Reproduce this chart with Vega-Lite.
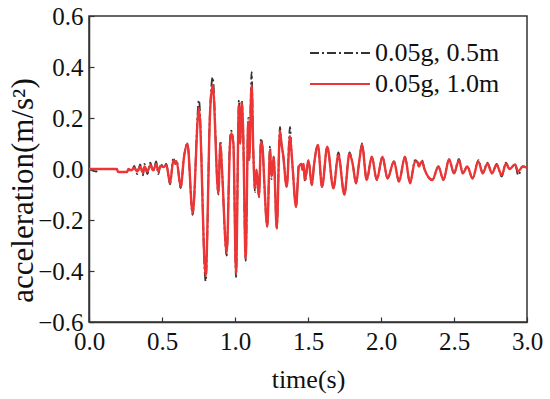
{
  "$schema": "https://vega.github.io/schema/vega-lite/v6.json",
  "width": 438,
  "height": 306,
  "autosize": {"type": "none"},
  "padding": {"left": 89, "top": 16, "right": 23, "bottom": 77},
  "background": "white",
  "config": {
    "font": "Times New Roman",
    "view": {"stroke": "#333333", "strokeWidth": 1.5}
  },
  "data": {
    "values": [
      {"s": "0.05g,  1.0m", "t": 0.00, "a": 0.0},
      {"s": "0.05g,  1.0m", "t": 0.19, "a": 0.0},
      {"s": "0.05g,  1.0m", "t": 0.20, "a": -0.012},
      {"s": "0.05g,  1.0m", "t": 0.26, "a": -0.012},
      {"s": "0.05g,  1.0m", "t": 0.27, "a": 0.0},
      {"s": "0.05g,  1.0m", "t": 0.29, "a": -0.005},
      {"s": "0.05g,  1.0m", "t": 0.31, "a": 0.005},
      {"s": "0.05g,  1.0m", "t": 0.33, "a": -0.01},
      {"s": "0.05g,  1.0m", "t": 0.35, "a": 0.01},
      {"s": "0.05g,  1.0m", "t": 0.37, "a": -0.015},
      {"s": "0.05g,  1.0m", "t": 0.38, "a": 0.01},
      {"s": "0.05g,  1.0m", "t": 0.40, "a": -0.01},
      {"s": "0.05g,  1.0m", "t": 0.42, "a": 0.015},
      {"s": "0.05g,  1.0m", "t": 0.44, "a": -0.005},
      {"s": "0.05g,  1.0m", "t": 0.46, "a": 0.02},
      {"s": "0.05g,  1.0m", "t": 0.475, "a": -0.01},
      {"s": "0.05g,  1.0m", "t": 0.49, "a": 0.012},
      {"s": "0.05g,  1.0m", "t": 0.51, "a": 0.008},
      {"s": "0.05g,  1.0m", "t": 0.53, "a": 0.015},
      {"s": "0.05g,  1.0m", "t": 0.555, "a": -0.055},
      {"s": "0.05g,  1.0m", "t": 0.578, "a": 0.035},
      {"s": "0.05g,  1.0m", "t": 0.59, "a": 0.02},
      {"s": "0.05g,  1.0m", "t": 0.60, "a": 0.03},
      {"s": "0.05g,  1.0m", "t": 0.628, "a": -0.07},
      {"s": "0.05g,  1.0m", "t": 0.651, "a": 0.048},
      {"s": "0.05g,  1.0m", "t": 0.674, "a": 0.10},
      {"s": "0.05g,  1.0m", "t": 0.71, "a": -0.174},
      {"s": "0.05g,  1.0m", "t": 0.753, "a": 0.24},
      {"s": "0.05g,  1.0m", "t": 0.799, "a": -0.42},
      {"s": "0.05g,  1.0m", "t": 0.829, "a": 0.22},
      {"s": "0.05g,  1.0m", "t": 0.847, "a": 0.33},
      {"s": "0.05g,  1.0m", "t": 0.886, "a": -0.095},
      {"s": "0.05g,  1.0m", "t": 0.90, "a": 0.10},
      {"s": "0.05g,  1.0m", "t": 0.91, "a": 0.01},
      {"s": "0.05g,  1.0m", "t": 0.943, "a": -0.33},
      {"s": "0.05g,  1.0m", "t": 0.966, "a": 0.10},
      {"s": "0.05g,  1.0m", "t": 0.975, "a": 0.14},
      {"s": "0.05g,  1.0m", "t": 0.989, "a": 0.10},
      {"s": "0.05g,  1.0m", "t": 1.007, "a": -0.41},
      {"s": "0.05g,  1.0m", "t": 1.027, "a": 0.25},
      {"s": "0.05g,  1.0m", "t": 1.035, "a": 0.10},
      {"s": "0.05g,  1.0m", "t": 1.046, "a": 0.26},
      {"s": "0.05g,  1.0m", "t": 1.055, "a": 0.166},
      {"s": "0.05g,  1.0m", "t": 1.073, "a": -0.35},
      {"s": "0.05g,  1.0m", "t": 1.091, "a": 0.186},
      {"s": "0.05g,  1.0m", "t": 1.097, "a": 0.035},
      {"s": "0.05g,  1.0m", "t": 1.114, "a": 0.33},
      {"s": "0.05g,  1.0m", "t": 1.125, "a": 0.075},
      {"s": "0.05g,  1.0m", "t": 1.137, "a": -0.076},
      {"s": "0.05g,  1.0m", "t": 1.148, "a": -0.003},
      {"s": "0.05g,  1.0m", "t": 1.164, "a": -0.108},
      {"s": "0.05g,  1.0m", "t": 1.178, "a": 0.107},
      {"s": "0.05g,  1.0m", "t": 1.19, "a": 0.075},
      {"s": "0.05g,  1.0m", "t": 1.20, "a": -0.043},
      {"s": "0.05g,  1.0m", "t": 1.221, "a": -0.226},
      {"s": "0.05g,  1.0m", "t": 1.240, "a": 0.075},
      {"s": "0.05g,  1.0m", "t": 1.25, "a": -0.03},
      {"s": "0.05g,  1.0m", "t": 1.265, "a": 0.048},
      {"s": "0.05g,  1.0m", "t": 1.286, "a": -0.233},
      {"s": "0.05g,  1.0m", "t": 1.308, "a": 0.15},
      {"s": "0.05g,  1.0m", "t": 1.318, "a": 0.10},
      {"s": "0.05g,  1.0m", "t": 1.33, "a": 0.055},
      {"s": "0.05g,  1.0m", "t": 1.354, "a": -0.07},
      {"s": "0.05g,  1.0m", "t": 1.377, "a": 0.13},
      {"s": "0.05g,  1.0m", "t": 1.386, "a": 0.075},
      {"s": "0.05g,  1.0m", "t": 1.396, "a": -0.004},
      {"s": "0.05g,  1.0m", "t": 1.418, "a": -0.148},
      {"s": "0.05g,  1.0m", "t": 1.438, "a": 0.01},
      {"s": "0.05g,  1.0m", "t": 1.455, "a": 0.02},
      {"s": "0.05g,  1.0m", "t": 1.462, "a": -0.004},
      {"s": "0.05g,  1.0m", "t": 1.47, "a": 0.02},
      {"s": "0.05g,  1.0m", "t": 1.479, "a": -0.043},
      {"s": "0.05g,  1.0m", "t": 1.503, "a": 0.035},
      {"s": "0.05g,  1.0m", "t": 1.526, "a": -0.063},
      {"s": "0.05g,  1.0m", "t": 1.542, "a": 0.02},
      {"s": "0.05g,  1.0m", "t": 1.568, "a": 0.094},
      {"s": "0.05g,  1.0m", "t": 1.596, "a": -0.07},
      {"s": "0.05g,  1.0m", "t": 1.632, "a": 0.087},
      {"s": "0.05g,  1.0m", "t": 1.674, "a": -0.076},
      {"s": "0.05g,  1.0m", "t": 1.708, "a": 0.055},
      {"s": "0.05g,  1.0m", "t": 1.749, "a": -0.10},
      {"s": "0.05g,  1.0m", "t": 1.784, "a": 0.06},
      {"s": "0.05g,  1.0m", "t": 1.806, "a": 0.02},
      {"s": "0.05g,  1.0m", "t": 1.829, "a": -0.056},
      {"s": "0.05g,  1.0m", "t": 1.852, "a": 0.035},
      {"s": "0.05g,  1.0m", "t": 1.870, "a": 0.094},
      {"s": "0.05g,  1.0m", "t": 1.902, "a": -0.043},
      {"s": "0.05g,  1.0m", "t": 1.937, "a": 0.048},
      {"s": "0.05g,  1.0m", "t": 1.971, "a": -0.043},
      {"s": "0.05g,  1.0m", "t": 2.010, "a": 0.048},
      {"s": "0.05g,  1.0m", "t": 2.045, "a": -0.037},
      {"s": "0.05g,  1.0m", "t": 2.089, "a": 0.03},
      {"s": "0.05g,  1.0m", "t": 2.123, "a": -0.05},
      {"s": "0.05g,  1.0m", "t": 2.164, "a": 0.048},
      {"s": "0.05g,  1.0m", "t": 2.199, "a": -0.056},
      {"s": "0.05g,  1.0m", "t": 2.233, "a": 0.03},
      {"s": "0.05g,  1.0m", "t": 2.25, "a": 0.027},
      {"s": "0.05g,  1.0m", "t": 2.26, "a": 0.01},
      {"s": "0.05g,  1.0m", "t": 2.28, "a": 0.03},
      {"s": "0.05g,  1.0m", "t": 2.30, "a": -0.004},
      {"s": "0.05g,  1.0m", "t": 2.352, "a": -0.043},
      {"s": "0.05g,  1.0m", "t": 2.393, "a": 0.01},
      {"s": "0.05g,  1.0m", "t": 2.428, "a": -0.043},
      {"s": "0.05g,  1.0m", "t": 2.466, "a": 0.038},
      {"s": "0.05g,  1.0m", "t": 2.50, "a": -0.017},
      {"s": "0.05g,  1.0m", "t": 2.534, "a": 0.035},
      {"s": "0.05g,  1.0m", "t": 2.56, "a": -0.017},
      {"s": "0.05g,  1.0m", "t": 2.591, "a": 0.01},
      {"s": "0.05g,  1.0m", "t": 2.627, "a": -0.037},
      {"s": "0.05g,  1.0m", "t": 2.667, "a": 0.03},
      {"s": "0.05g,  1.0m", "t": 2.697, "a": -0.017},
      {"s": "0.05g,  1.0m", "t": 2.729, "a": 0.022},
      {"s": "0.05g,  1.0m", "t": 2.76, "a": -0.017},
      {"s": "0.05g,  1.0m", "t": 2.792, "a": 0.016},
      {"s": "0.05g,  1.0m", "t": 2.827, "a": -0.024},
      {"s": "0.05g,  1.0m", "t": 2.856, "a": 0.022},
      {"s": "0.05g,  1.0m", "t": 2.88, "a": 0.0},
      {"s": "0.05g,  1.0m", "t": 2.918, "a": 0.018},
      {"s": "0.05g,  1.0m", "t": 2.94, "a": -0.01},
      {"s": "0.05g,  1.0m", "t": 2.97, "a": 0.01},
      {"s": "0.05g,  1.0m", "t": 3.0, "a": 0.005},

      {"s": "0.05g, 0.5m", "t": 0.00, "a": 0.0},
      {"s": "0.05g, 0.5m", "t": 0.05, "a": -0.01},
      {"s": "0.05g, 0.5m", "t": 0.06, "a": 0.0},
      {"s": "0.05g, 0.5m", "t": 0.19, "a": 0.0},
      {"s": "0.05g, 0.5m", "t": 0.20, "a": -0.012},
      {"s": "0.05g, 0.5m", "t": 0.26, "a": -0.012},
      {"s": "0.05g, 0.5m", "t": 0.27, "a": 0.0},
      {"s": "0.05g, 0.5m", "t": 0.29, "a": -0.01},
      {"s": "0.05g, 0.5m", "t": 0.31, "a": 0.012},
      {"s": "0.05g, 0.5m", "t": 0.33, "a": -0.02},
      {"s": "0.05g, 0.5m", "t": 0.35, "a": 0.018},
      {"s": "0.05g, 0.5m", "t": 0.37, "a": -0.025},
      {"s": "0.05g, 0.5m", "t": 0.38, "a": 0.02},
      {"s": "0.05g, 0.5m", "t": 0.40, "a": -0.02},
      {"s": "0.05g, 0.5m", "t": 0.42, "a": 0.025},
      {"s": "0.05g, 0.5m", "t": 0.44, "a": -0.01},
      {"s": "0.05g, 0.5m", "t": 0.46, "a": 0.03},
      {"s": "0.05g, 0.5m", "t": 0.475, "a": -0.02},
      {"s": "0.05g, 0.5m", "t": 0.49, "a": 0.02},
      {"s": "0.05g, 0.5m", "t": 0.51, "a": 0.01},
      {"s": "0.05g, 0.5m", "t": 0.53, "a": 0.02},
      {"s": "0.05g, 0.5m", "t": 0.555, "a": -0.06},
      {"s": "0.05g, 0.5m", "t": 0.578, "a": 0.045},
      {"s": "0.05g, 0.5m", "t": 0.59, "a": 0.02},
      {"s": "0.05g, 0.5m", "t": 0.60, "a": 0.035},
      {"s": "0.05g, 0.5m", "t": 0.628, "a": -0.075},
      {"s": "0.05g, 0.5m", "t": 0.651, "a": 0.05},
      {"s": "0.05g, 0.5m", "t": 0.674, "a": 0.10},
      {"s": "0.05g, 0.5m", "t": 0.71, "a": -0.18},
      {"s": "0.05g, 0.5m", "t": 0.753, "a": 0.27},
      {"s": "0.05g, 0.5m", "t": 0.799, "a": -0.44},
      {"s": "0.05g, 0.5m", "t": 0.829, "a": 0.23},
      {"s": "0.05g, 0.5m", "t": 0.847, "a": 0.36},
      {"s": "0.05g, 0.5m", "t": 0.886, "a": -0.10},
      {"s": "0.05g, 0.5m", "t": 0.90, "a": 0.11},
      {"s": "0.05g, 0.5m", "t": 0.91, "a": 0.01},
      {"s": "0.05g, 0.5m", "t": 0.943, "a": -0.34},
      {"s": "0.05g, 0.5m", "t": 0.966, "a": 0.12},
      {"s": "0.05g, 0.5m", "t": 0.975, "a": 0.15},
      {"s": "0.05g, 0.5m", "t": 0.989, "a": 0.10},
      {"s": "0.05g, 0.5m", "t": 1.007, "a": -0.425},
      {"s": "0.05g, 0.5m", "t": 1.027, "a": 0.27},
      {"s": "0.05g, 0.5m", "t": 1.035, "a": 0.10},
      {"s": "0.05g, 0.5m", "t": 1.046, "a": 0.27},
      {"s": "0.05g, 0.5m", "t": 1.055, "a": 0.17},
      {"s": "0.05g, 0.5m", "t": 1.073, "a": -0.36},
      {"s": "0.05g, 0.5m", "t": 1.091, "a": 0.20},
      {"s": "0.05g, 0.5m", "t": 1.097, "a": 0.035},
      {"s": "0.05g, 0.5m", "t": 1.114, "a": 0.38},
      {"s": "0.05g, 0.5m", "t": 1.125, "a": 0.075},
      {"s": "0.05g, 0.5m", "t": 1.137, "a": -0.09},
      {"s": "0.05g, 0.5m", "t": 1.148, "a": -0.003},
      {"s": "0.05g, 0.5m", "t": 1.164, "a": -0.11},
      {"s": "0.05g, 0.5m", "t": 1.178, "a": 0.12},
      {"s": "0.05g, 0.5m", "t": 1.19, "a": 0.075},
      {"s": "0.05g, 0.5m", "t": 1.20, "a": -0.05},
      {"s": "0.05g, 0.5m", "t": 1.221, "a": -0.226},
      {"s": "0.05g, 0.5m", "t": 1.240, "a": 0.09},
      {"s": "0.05g, 0.5m", "t": 1.25, "a": -0.04},
      {"s": "0.05g, 0.5m", "t": 1.265, "a": 0.048},
      {"s": "0.05g, 0.5m", "t": 1.286, "a": -0.233},
      {"s": "0.05g, 0.5m", "t": 1.308, "a": 0.165},
      {"s": "0.05g, 0.5m", "t": 1.318, "a": 0.10},
      {"s": "0.05g, 0.5m", "t": 1.33, "a": 0.055},
      {"s": "0.05g, 0.5m", "t": 1.354, "a": -0.07},
      {"s": "0.05g, 0.5m", "t": 1.377, "a": 0.165},
      {"s": "0.05g, 0.5m", "t": 1.386, "a": 0.075},
      {"s": "0.05g, 0.5m", "t": 1.396, "a": -0.004},
      {"s": "0.05g, 0.5m", "t": 1.418, "a": -0.148},
      {"s": "0.05g, 0.5m", "t": 1.438, "a": 0.02},
      {"s": "0.05g, 0.5m", "t": 1.455, "a": 0.02},
      {"s": "0.05g, 0.5m", "t": 1.462, "a": -0.004},
      {"s": "0.05g, 0.5m", "t": 1.47, "a": 0.02},
      {"s": "0.05g, 0.5m", "t": 1.479, "a": -0.05},
      {"s": "0.05g, 0.5m", "t": 1.503, "a": 0.035},
      {"s": "0.05g, 0.5m", "t": 1.526, "a": -0.063},
      {"s": "0.05g, 0.5m", "t": 1.542, "a": 0.02},
      {"s": "0.05g, 0.5m", "t": 1.568, "a": 0.094},
      {"s": "0.05g, 0.5m", "t": 1.596, "a": -0.07},
      {"s": "0.05g, 0.5m", "t": 1.632, "a": 0.087},
      {"s": "0.05g, 0.5m", "t": 1.674, "a": -0.076},
      {"s": "0.05g, 0.5m", "t": 1.708, "a": 0.065},
      {"s": "0.05g, 0.5m", "t": 1.749, "a": -0.10},
      {"s": "0.05g, 0.5m", "t": 1.784, "a": 0.065},
      {"s": "0.05g, 0.5m", "t": 1.806, "a": 0.02},
      {"s": "0.05g, 0.5m", "t": 1.829, "a": -0.056},
      {"s": "0.05g, 0.5m", "t": 1.852, "a": 0.035},
      {"s": "0.05g, 0.5m", "t": 1.870, "a": 0.1},
      {"s": "0.05g, 0.5m", "t": 1.902, "a": -0.043},
      {"s": "0.05g, 0.5m", "t": 1.937, "a": 0.048},
      {"s": "0.05g, 0.5m", "t": 1.971, "a": -0.043},
      {"s": "0.05g, 0.5m", "t": 2.010, "a": 0.048},
      {"s": "0.05g, 0.5m", "t": 2.045, "a": -0.037},
      {"s": "0.05g, 0.5m", "t": 2.089, "a": 0.03},
      {"s": "0.05g, 0.5m", "t": 2.123, "a": -0.05},
      {"s": "0.05g, 0.5m", "t": 2.164, "a": 0.048},
      {"s": "0.05g, 0.5m", "t": 2.199, "a": -0.056},
      {"s": "0.05g, 0.5m", "t": 2.233, "a": 0.035},
      {"s": "0.05g, 0.5m", "t": 2.25, "a": 0.027},
      {"s": "0.05g, 0.5m", "t": 2.26, "a": 0.01},
      {"s": "0.05g, 0.5m", "t": 2.28, "a": 0.035},
      {"s": "0.05g, 0.5m", "t": 2.30, "a": -0.004},
      {"s": "0.05g, 0.5m", "t": 2.352, "a": -0.043},
      {"s": "0.05g, 0.5m", "t": 2.393, "a": 0.01},
      {"s": "0.05g, 0.5m", "t": 2.428, "a": -0.043},
      {"s": "0.05g, 0.5m", "t": 2.466, "a": 0.038},
      {"s": "0.05g, 0.5m", "t": 2.50, "a": -0.017},
      {"s": "0.05g, 0.5m", "t": 2.534, "a": 0.04},
      {"s": "0.05g, 0.5m", "t": 2.56, "a": -0.017},
      {"s": "0.05g, 0.5m", "t": 2.591, "a": 0.01},
      {"s": "0.05g, 0.5m", "t": 2.627, "a": -0.037},
      {"s": "0.05g, 0.5m", "t": 2.667, "a": 0.035},
      {"s": "0.05g, 0.5m", "t": 2.697, "a": -0.017},
      {"s": "0.05g, 0.5m", "t": 2.729, "a": 0.025},
      {"s": "0.05g, 0.5m", "t": 2.76, "a": -0.017},
      {"s": "0.05g, 0.5m", "t": 2.792, "a": 0.02},
      {"s": "0.05g, 0.5m", "t": 2.827, "a": -0.03},
      {"s": "0.05g, 0.5m", "t": 2.856, "a": 0.025},
      {"s": "0.05g, 0.5m", "t": 2.88, "a": 0.0},
      {"s": "0.05g, 0.5m", "t": 2.918, "a": 0.018},
      {"s": "0.05g, 0.5m", "t": 2.94, "a": -0.025},
      {"s": "0.05g, 0.5m", "t": 2.97, "a": 0.01},
      {"s": "0.05g, 0.5m", "t": 3.0, "a": 0.005}
    ]
  },
  "encoding": {
    "x": {
      "field": "t", "type": "quantitative",
      "scale": {"domain": [0, 3], "nice": false, "zero": false},
      "axis": {
        "title": "time(s)", "values": [0, 0.5, 1, 1.5, 2, 2.5, 3], "format": ".1f",
        "grid": false, "domainColor": "#333333", "domainWidth": 1.5,
        "tickColor": "#333333", "tickWidth": 1.2, "tickSize": -5,
        "labelFont": "Times New Roman", "labelFontSize": 25, "labelColor": "#111111",
        "labelPadding": 12, "labelFlush": false,
        "titleFont": "Times New Roman", "titleFontSize": 26, "titleFontWeight": "normal", "titleColor": "#111111",
        "titlePadding": 12
      }
    },
    "y": {
      "field": "a", "type": "quantitative",
      "scale": {"domain": [-0.6, 0.6], "nice": false, "zero": false},
      "axis": {
        "title": "acceleration(m/s²)", "values": [-0.6, -0.4, -0.2, 0, 0.2, 0.4, 0.6], "format": ".1f",
        "grid": false, "domainColor": "#333333", "domainWidth": 1.5,
        "tickColor": "#333333", "tickWidth": 1.2, "tickSize": -5,
        "labelFont": "Times New Roman", "labelFontSize": 25, "labelColor": "#111111",
        "labelPadding": 11, "labelFlush": false,
        "titleFont": "Times New Roman", "titleFontSize": 31, "titleFontWeight": "normal", "titleColor": "#111111",
        "titlePadding": -2, "titleY": 174
      }
    }
  },
  "layer": [
    {
      "transform": [{"filter": "datum.s == '0.05g, 0.5m'"}],
      "mark": {"type": "line", "strokeWidth": 1.8, "color": "#333333", "interpolate": "monotone", "clip": true},
      "encoding": {
        "strokeDash": {
          "field": "s", "type": "nominal",
          "scale": {"domain": ["0.05g, 0.5m"], "range": [[9, 3, 2, 3]]},
          "legend": {
            "title": null, "orient": "none", "legendX": 220, "legendY": 6,
            "symbolType": "stroke", "symbolSize": 3600, "symbolStrokeWidth": 2, "symbolStrokeColor": "#333333",
            "labelFont": "Times New Roman", "labelFontSize": 26, "labelColor": "#111111", "labelOffset": 4
          }
        }
      }
    },
    {
      "transform": [{"filter": "datum.s != '0.05g, 0.5m'"}],
      "mark": {"type": "line", "strokeWidth": 2.4, "interpolate": "monotone", "clip": true},
      "encoding": {
        "color": {
          "field": "s", "type": "nominal",
          "scale": {"domain": ["0.05g,  1.0m"], "range": ["#ee3535"]},
          "legend": {
            "title": null, "orient": "none", "legendX": 220, "legendY": 37,
            "symbolType": "stroke", "symbolSize": 3600, "symbolStrokeWidth": 2,
            "labelFont": "Times New Roman", "labelFontSize": 26, "labelColor": "#111111", "labelOffset": 4
          }
        }
      }
    }
  ]
}
